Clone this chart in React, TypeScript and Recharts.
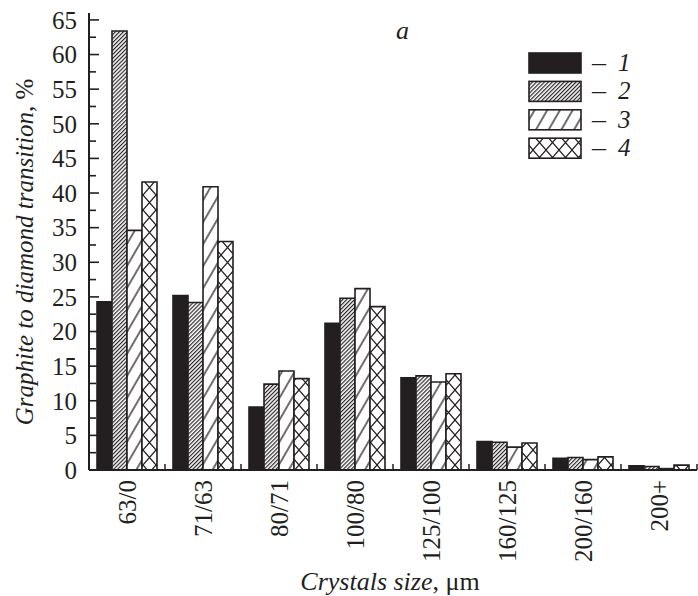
import React from "react";
import { BarChart, Bar, XAxis, YAxis } from "recharts";

// crystal size fractions, µm
const CATEGORIES = ["63/0", "71/63", "80/71", "100/80", "125/100", "160/125", "200/160", "200+"];

// graphite -> diamond transition, %
const SERIES_1 = [24.3, 25.2, 9.1, 21.2, 13.3, 4.1, 1.7, 0.6];
const SERIES_2 = [63.4, 24.2, 12.4, 24.8, 13.6, 4.0, 1.8, 0.5];
const SERIES_3 = [34.6, 40.9, 14.3, 26.2, 12.7, 3.3, 1.5, 0.2];
const SERIES_4 = [41.6, 33.0, 13.2, 23.6, 13.9, 3.9, 1.9, 0.7];

const Y_TICKS = [
  0, 2.5, 5, 7.5, 10, 12.5, 15, 17.5, 20, 22.5, 25, 27.5, 30, 32.5, 35, 37.5,
  40, 42.5, 45, 47.5, 50, 52.5, 55, 57.5, 60, 62.5, 65,
];
const LEGEND_LABELS = ["1", "2", "3", "4"];

const INK = "#231f20";
const FONT = "'Liberation Serif', 'Times New Roman', serif";

const WIDTH = 698;
const HEIGHT = 596;
const MARGIN = { top: 13, right: 1, bottom: 0, left: 0 };
const Y_AXIS_WIDTH = 89;
const X_AXIS_HEIGHT = 126;
const PLOT_WIDTH = WIDTH - MARGIN.left - MARGIN.right - Y_AXIS_WIDTH;
const Y_TICK_MARGIN = 12;
const X_TICK_MARGIN = 10;

const data = CATEGORIES.map((size, i) => ({
  size,
  s1: SERIES_1[i],
  s2: SERIES_2[i],
  s3: SERIES_3[i],
  s4: SERIES_4[i],
}));

const FILLS = [INK, "url(#pat-fine)", "url(#pat-wide)", "url(#pat-cross)"];

// hatch patterns shared by the bars and the legend swatches
function PatternDefs() {
  return (
    <svg width={0} height={0} style={{ position: "absolute" }}>
      <defs>
        <pattern
          id="pat-fine"
          width={2.8}
          height={10}
          patternUnits="userSpaceOnUse"
          patternTransform="rotate(45)"
        >
          <rect width={2.8} height={10} fill="#fff" />
          <line x1={0.6} y1={0} x2={0.6} y2={10} stroke={INK} strokeWidth={1.15} />
        </pattern>
        <pattern
          id="pat-wide"
          width={11}
          height={20}
          patternUnits="userSpaceOnUse"
          patternTransform="rotate(30)"
        >
          <rect width={11} height={20} fill="#fff" />
          <line x1={1} y1={0} x2={1} y2={20} stroke={INK} strokeWidth={1.3} />
        </pattern>
        <pattern id="pat-cross" width={13} height={15} patternUnits="userSpaceOnUse">
          <rect width={13} height={15} fill="#fff" />
          <path d="M0,0 L13,15 M13,0 L0,15" stroke={INK} strokeWidth={1.2} />
        </pattern>
      </defs>
    </svg>
  );
}

function YTick(props: any) {
  const { x, y, payload } = props;
  const v = payload.value as number;
  const major = v % 5 === 0;
  const ax = x + Y_TICK_MARGIN;
  return (
    <g>
      <line x1={ax} x2={ax + (major ? 10 : 7)} y1={y} y2={y} stroke={INK} strokeWidth={1.6} />
      {major && (
        <text
          x={x}
          y={y}
          dy="0.35em"
          textAnchor="end"
          fontFamily={FONT}
          fontSize={25}
          fill={INK}
        >
          {v}
        </text>
      )}
    </g>
  );
}

function XTick(props: any) {
  const { x, y, payload } = props;
  const half = PLOT_WIDTH / CATEGORIES.length / 2;
  const ay = y - X_TICK_MARGIN;
  return (
    <g>
      {/* small upward separators between size groups */}
      <line x1={x + half} x2={x + half} y1={ay} y2={ay - 6} stroke={INK} strokeWidth={1.5} />
      <text
        x={x}
        y={y}
        dy="0.35em"
        transform={`rotate(-90, ${x}, ${y})`}
        textAnchor="end"
        fontFamily={FONT}
        fontSize={25}
        fill={INK}
      >
        {payload.value}
      </text>
    </g>
  );
}

function Overlay() {
  return (
    <svg
      width={WIDTH}
      height={HEIGHT}
      style={{ position: "absolute", left: 0, top: 0, pointerEvents: "none" }}
    >
      <text
        x={33}
        y={252}
        transform="rotate(-90, 33, 252)"
        textAnchor="middle"
        fontFamily={FONT}
        fontSize={25}
        fill={INK}
      >
        <tspan fontStyle="italic">Graphite to diamond transition</tspan>, %
      </text>
      <text x={390} y={590} textAnchor="middle" fontFamily={FONT} fontSize={26} fill={INK}>
        <tspan fontStyle="italic">Crystals size</tspan>, μm
      </text>
      <text x={396} y={39} fontFamily={FONT} fontSize={26} fontStyle="italic" fill={INK}>
        a
      </text>
      {LEGEND_LABELS.map((label, i) => {
        const top = 53 + i * 28.4;
        return (
          <g key={label}>
            <rect
              x={529}
              y={top}
              width={52}
              height={20}
              fill={FILLS[i]}
              stroke={INK}
              strokeWidth={1.6}
            />
            <text x={592} y={top + 18} fontFamily={FONT} fontSize={25} fill={INK}>
              <tspan fontSize={28}>–</tspan>
              <tspan x={618} fontStyle="italic">
                {label}
              </tspan>
            </text>
          </g>
        );
      })}
    </svg>
  );
}

export default function App() {
  return (
    <div style={{ position: "absolute", left: 0, top: 0, width: WIDTH, height: HEIGHT, background: "#fff" }}>
      <PatternDefs />
      <BarChart
        width={WIDTH}
        height={HEIGHT}
        data={data}
        margin={MARGIN}
        barGap={0}
        barCategoryGap={8}
      >
        <XAxis
          dataKey="size"
          height={X_AXIS_HEIGHT}
          tickSize={0}
          tickLine={false}
          tickMargin={X_TICK_MARGIN}
          interval={0}
          axisLine={{ stroke: INK, strokeWidth: 2 }}
          tick={<XTick />}
        />
        <YAxis
          width={Y_AXIS_WIDTH}
          domain={[0, 66]}
          ticks={Y_TICKS}
          interval={0}
          tickSize={0}
          tickLine={false}
          tickMargin={Y_TICK_MARGIN}
          axisLine={{ stroke: INK, strokeWidth: 2 }}
          tick={<YTick />}
        />
        <Bar dataKey="s1" fill={FILLS[0]} stroke={INK} strokeWidth={1.6} isAnimationActive={false} />
        <Bar dataKey="s2" fill={FILLS[1]} stroke={INK} strokeWidth={1.6} isAnimationActive={false} />
        <Bar dataKey="s3" fill={FILLS[2]} stroke={INK} strokeWidth={1.6} isAnimationActive={false} />
        <Bar dataKey="s4" fill={FILLS[3]} stroke={INK} strokeWidth={1.6} isAnimationActive={false} />
      </BarChart>
      <Overlay />
    </div>
  );
}
